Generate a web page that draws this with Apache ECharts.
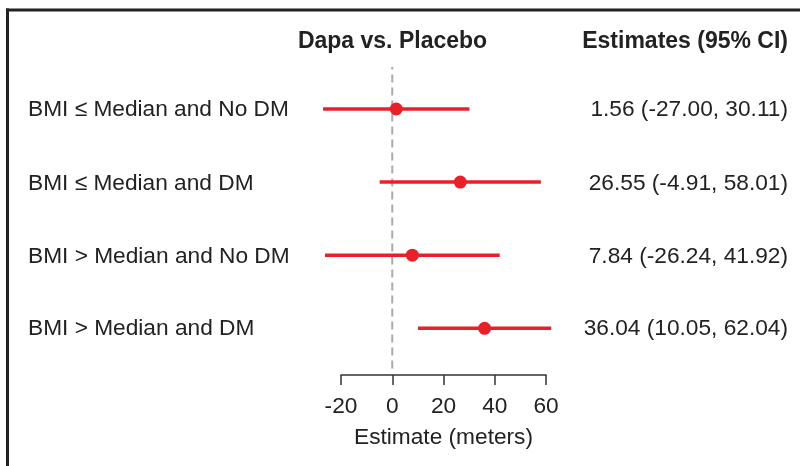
<!DOCTYPE html>
<html>
<head>
<meta charset="utf-8">
<script src="https://cdn.jsdelivr.net/npm/echarts@6/dist/echarts.min.js"></script>
<style>html,body{margin:0;padding:0;background:#fff}#c{width:800px;height:466px}</style>
</head>
<body>
<div id="c"></div>
<script>
var subgroups = ['BMI \u2264 Median and No DM', 'BMI \u2264 Median and DM', 'BMI > Median and No DM', 'BMI > Median and DM'];
var estimates = [1.56, 26.55, 7.84, 36.04];
var lower = [-27.00, -4.91, -26.24, 10.05];
var upper = [30.11, 58.01, 41.92, 62.04];
var xTicks = [-20, 0, 20, 40, 60];

var RED = '#e8202a';
var TXT = '#222';
var FONT = '"Liberation Sans", Arial, sans-serif';
var FS = 22.7;

var chart = echarts.init(document.getElementById('c'), null, {renderer: 'canvas'});
var n = subgroups.length;
function rowY(i) { return n - i; }

var series = [];
// reference dashed line at 0
series.push({
  type: 'line', data: [[0, 0.45], [0, 4.575]], symbol: 'none', silent: true,
  lineStyle: {color: '#aaaaaa', width: 2, type: [8, 5]}, z: 1
});
series.push({
  type: 'custom', clip: false, silent: true, z: 2,
  data: lower.map(function (lo, i) { return [lo, upper[i], rowY(i)]; }),
  renderItem: function (params, api) {
    var p1 = api.coord([api.value(0), api.value(2)]);
    var p2 = api.coord([api.value(1), api.value(2)]);
    return {type: 'line', shape: {x1: p1[0], y1: p1[1], x2: p2[0], y2: p2[1]}, style: {stroke: RED, lineWidth: 3.5}};
  }
});
series.push({
  type: 'scatter', data: estimates.map(function (v, i) { return [v, rowY(i)]; }),
  symbol: 'circle', symbolSize: 13, itemStyle: {color: RED, opacity: 1}, clip: false, z: 3
});

var graphics = [
  {type: 'line', shape: {x1: 6, y1: 10, x2: 800, y2: 10}, style: {stroke: '#222', lineWidth: 3}},
  {type: 'line', shape: {x1: 7.5, y1: 8.5, x2: 7.5, y2: 466}, style: {stroke: '#222', lineWidth: 3}},
  {type: 'text', x: 392.5, y: 42, style: {text: 'Dapa vs. Placebo', font: 'bold 23px ' + FONT, fill: TXT, textAlign: 'center', textVerticalAlign: 'middle'}},
  {type: 'text', x: 788, y: 42, style: {text: 'Estimates (95% CI)', font: 'bold 23px ' + FONT, fill: TXT, textAlign: 'right', textVerticalAlign: 'middle'}}
];
var rowPix = [110, 183.5, 256.5, 329];
for (var j = 0; j < n; j++) {
  graphics.push({type: 'text', x: 28, y: rowPix[j], style: {text: subgroups[j], font: FS + 'px ' + FONT, fill: TXT, textAlign: 'left', textVerticalAlign: 'middle'}});
  graphics.push({type: 'text', x: 788, y: rowPix[j], style: {text: estimates[j].toFixed(2) + ' (' + lower[j].toFixed(2) + ', ' + upper[j].toFixed(2) + ')', font: FS + 'px ' + FONT, fill: TXT, textAlign: 'right', textVerticalAlign: 'middle'}});
}

chart.setOption({
  animation: false,
  backgroundColor: '#fff',
  grid: {left: 341, right: 254, top: 67, bottom: 91, containLabel: false},
  xAxis: {
    type: 'value', min: xTicks[0], max: xTicks[xTicks.length - 1], interval: 20,
    splitLine: {show: false},
    axisLine: {show: true, onZero: false, lineStyle: {color: '#333', width: 1.5}},
    axisTick: {show: true, inside: false, length: 10, lineStyle: {color: '#333', width: 1.5}},
    axisLabel: {fontSize: FS, fontFamily: FONT, color: TXT, margin: 20},
    name: 'Estimate (meters)', nameLocation: 'middle', nameGap: 51,
    nameTextStyle: {fontSize: FS, fontFamily: FONT, color: TXT}
  },
  yAxis: {type: 'value', min: 0.361, max: 4.575, show: false},
  series: series,
  graphic: graphics
});
</script>
</body>
</html>
